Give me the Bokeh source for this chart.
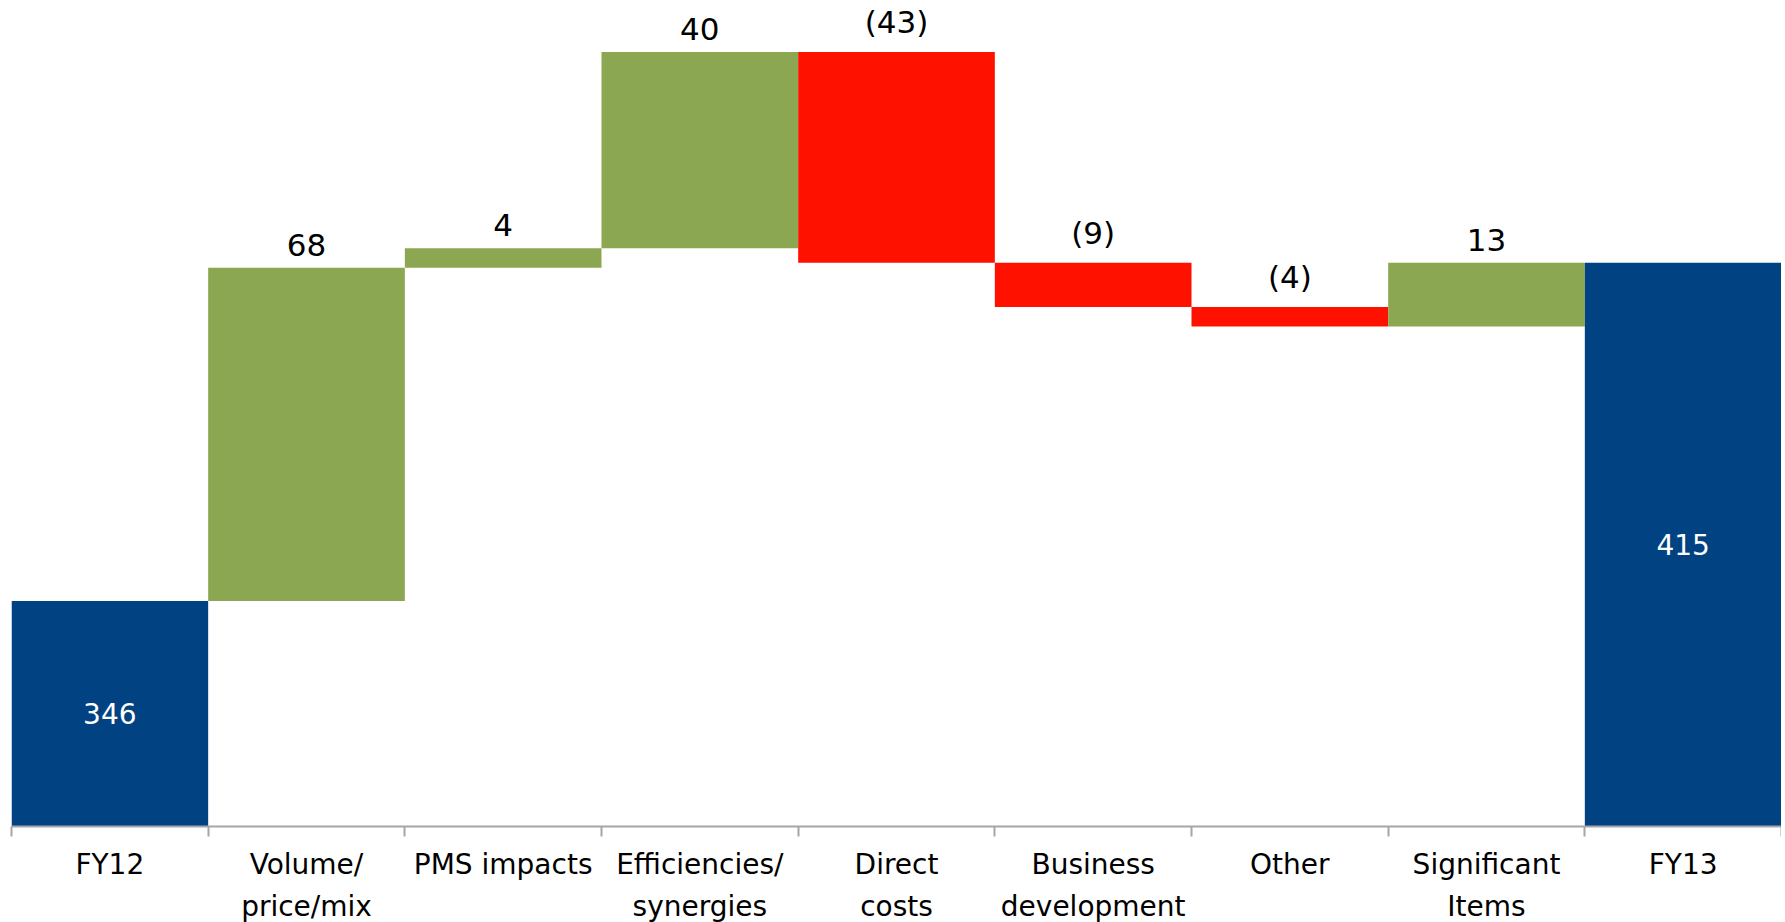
from bokeh.plotting import figure
from bokeh.models import Range1d, FixedTicker, ColumnDataSource
from bokeh.core.properties import value
from bokeh.embed import file_html
from bokeh.resources import INLINE

# ---- data ----
categories = ["FY12", "Volume/\nprice/mix", "PMS impacts", "Efficiencies/\nsynergies",
              "Direct\ncosts", "Business\ndevelopment", "Other", "Significant\nItems", "FY13"]
values = [346, 68, 4, 40, -43, -9, -4, 13, 415]
is_total = [True, False, False, False, False, False, False, False, True]

AXIS_MIN = 300
AXIS_MAX = 466.9

BLUE = "#004282"
GREEN = "#8CA751"
RED = "#FF1100"
FONT = "DejaVu Sans"

# waterfall geometry from the values
bottoms, tops, colors, labels = [], [], [], []
running = 0
for v, tot in zip(values, is_total):
    if tot:
        bottoms.append(AXIS_MIN)
        tops.append(v)
        colors.append(BLUE)
        running = v
        labels.append(str(v))
    else:
        start = running
        running = running + v
        bottoms.append(min(start, running))
        tops.append(max(start, running))
        colors.append(GREEN if v >= 0 else RED)
        labels.append(str(v) if v >= 0 else "(%d)" % abs(v))

xs = [i + 0.5 for i in range(len(categories))]

src = ColumnDataSource(dict(x=xs, bottom=bottoms, top=tops, color=colors))

p = figure(frame_width=1770, frame_height=818,
           x_range=Range1d(0, len(categories)), y_range=Range1d(AXIS_MIN, AXIS_MAX),
           output_backend="svg", toolbar_location=None, y_axis_location=None,
           min_border_left=11, min_border_right=0, min_border_top=8, min_border_bottom=0)
p.outline_line_color = None
p.grid.visible = False
p.background_fill_color = "white"

p.vbar(x="x", bottom="bottom", top="top", width=1.0, fill_color="color",
       line_color=None, source=src)

# labels
delta_idx = [i for i, t in enumerate(is_total) if not t]
tot_idx = [i for i, t in enumerate(is_total) if t]
dsrc = ColumnDataSource(dict(x=[xs[i] for i in delta_idx], y=[tops[i] for i in delta_idx],
                             label=[labels[i] for i in delta_idx]))
tsrc = ColumnDataSource(dict(x=[xs[i] for i in tot_idx],
                             y=[(bottoms[i] + tops[i]) / 2 for i in tot_idx],
                             label=[labels[i] for i in tot_idx]))
p.text(x="x", y="y", text="label", source=dsrc, text_align="center",
       text_baseline="bottom", y_offset=-12, text_font=value(FONT),
       text_font_size="31px", text_color="black")
p.text(x="x", y="y", text="label", source=tsrc, text_align="center",
       text_baseline="middle", text_font=value(FONT),
       text_font_size="28px", text_color="white")

ax = p.xaxis[0]
ax.ticker = FixedTicker(ticks=xs, minor_ticks=list(range(len(categories) + 1)))
ax.major_label_overrides = {x: c for x, c in zip(xs, categories)}
ax.major_tick_line_color = None
ax.major_tick_out = 0
ax.major_tick_in = 0
ax.minor_tick_out = 10
ax.minor_tick_in = 0
ax.minor_tick_line_color = "#A6A6A6"
ax.minor_tick_line_width = 2
ax.axis_line_color = "#A6A6A6"
ax.axis_line_width = 2
ax.major_label_standoff = 11
ax.major_label_text_font = FONT
ax.major_label_text_font_size = "28px"
ax.major_label_text_color = "black"
ax.major_label_text_line_height = 1.3

open("out.html", "w").write(file_html(p, INLINE))
